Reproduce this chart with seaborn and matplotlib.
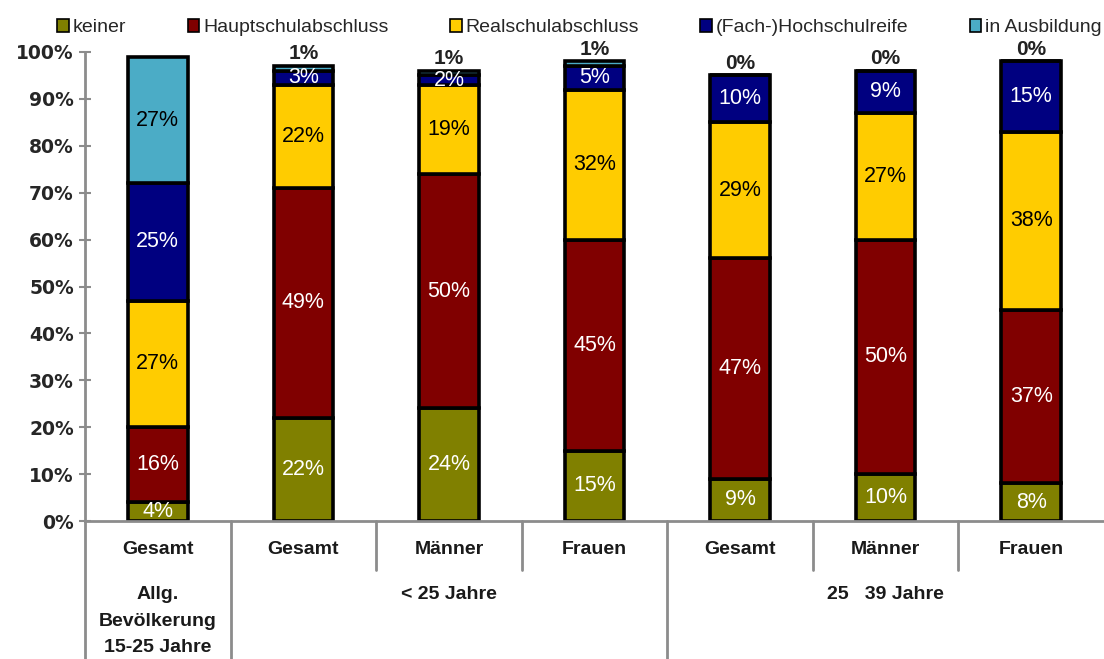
import matplotlib
matplotlib.use("Agg")
import matplotlib.pyplot as plt
import matplotlib.transforms as mtransforms
from matplotlib.lines import Line2D
from matplotlib.patches import Patch
import numpy as np
import seaborn as sns

# ── data ──────────────────────────────────────────────────────────────────────
categories = ["Gesamt", "Gesamt", "Männer", "Frauen", "Gesamt", "Männer", "Frauen"]
slot_keys = [f"c{i}" for i in range(len(categories))]

series_names = ["keiner", "Hauptschulabschluss", "Realschulabschluss",
                "(Fach-)Hochschulreife", "in Ausbildung"]
keiner = [4, 22, 24, 15, 9, 10, 8]
hauptschule = [16, 49, 50, 45, 47, 50, 37]
realschule = [27, 22, 19, 32, 29, 27, 38]
hochschulreife = [25, 3, 2, 5, 10, 9, 15]
in_ausbildung = [27, 1, 1, 1, 0, 0, 0]

yticks = [0, 10, 20, 30, 40, 50, 60, 70, 80, 90, 100]
group_labels = ["Allg.\nBevölkerung\n15-25 Jahre", "< 25 Jahre", "25   39 Jahre"]

# ── style ─────────────────────────────────────────────────────────────────────
colors = ["#808000", "#800000", "#FFCC00", "#000080", "#4BACC6"]
label_colors = ["white", "white", "black", "white", "black"]

sns.set_style("white")
plt.rcParams["font.family"] = ["Liberation Sans", "DejaVu Sans"]

fig = plt.figure(figsize=(11.04, 6.59), dpi=100)
ax = fig.add_axes([0.077, 0.2094, 0.923, 0.7117])

all_series = [keiner, hauptschule, realschule, hochschulreife, in_ausbildung]
bottom = np.zeros(len(categories))
for vals, col, lcol in zip(all_series, colors, label_colors):
    vals = np.asarray(vals, dtype=float)
    sns.barplot(x=slot_keys, y=vals, order=slot_keys, bottom=bottom, color=col,
                saturation=1, width=0.41, edgecolor="black", linewidth=2.6, ax=ax)
    for i, v in enumerate(vals):
        if v >= 2:
            ax.text(i, bottom[i] + v / 2, f"{v:.0f}%", ha="center", va="center",
                    color=lcol, fontsize=15.5)
        else:
            ax.text(i, bottom[i] + v + 2.6, f"{v:.0f}%", ha="center", va="center",
                    color="#222222", fontsize=15, fontweight="bold", clip_on=False)
    bottom += vals

# ── axes ──────────────────────────────────────────────────────────────────────
ax.set_xlim(-0.5, len(categories) - 0.5)
ax.set_ylim(0, 100)
ax.set_yticks(yticks)
ax.set_yticklabels([f"{t}%" for t in yticks], fontsize=13.5, fontweight="bold",
                   family="DejaVu Sans")
ax.set_xticks([])
ax.set_xlabel("")
ax.set_ylabel("")
for side in ["top", "right"]:
    ax.spines[side].set_visible(False)
for side in ["left", "bottom"]:
    ax.spines[side].set_color("#8c8c8c")
    ax.spines[side].set_linewidth(2)
ax.tick_params(axis="y", direction="inout", length=8, width=1.5, color="#8c8c8c",
               pad=4, left=True)

# ── category table below the axis ─────────────────────────────────────────────
trans = mtransforms.blended_transform_factory(ax.transData, fig.transFigure)
y_axis = 0.2094
y_short = 1 - 570 / 659
long_edges = [-0.5, 0.5, 3.5]
short_edges = [1.5, 2.5, 4.5, 5.5]
for xe in long_edges:
    fig.add_artist(Line2D([xe, xe], [y_axis, 0], transform=trans,
                          color="#8c8c8c", lw=2, clip_on=False))
for xe in short_edges:
    fig.add_artist(Line2D([xe, xe], [y_axis, y_short], transform=trans,
                          color="#8c8c8c", lw=2, clip_on=False))

for i, cat in enumerate(categories):
    fig.text(i, 1 - 550 / 659, cat, transform=trans, ha="center", va="center",
             fontsize=14, fontweight="bold", color="#1a1a1a")

group_x = [0, 2, 5]
for gx, gl in zip(group_x, group_labels):
    fig.text(gx, 1 - 586 / 659, gl, transform=trans, ha="center", va="top",
             fontsize=14, fontweight="bold", color="#1a1a1a", linespacing=1.75)

# ── legend ────────────────────────────────────────────────────────────────────
handles = [Patch(facecolor=c, edgecolor="black", linewidth=1.2) for c in colors]
fig.legend(handles, series_names, loc="lower left", ncol=5, mode="expand",
           bbox_to_anchor=(0.052, 0.945, 0.946, 0.05), frameon=False,
           fontsize=14, handlelength=0.6, handleheight=0.6, handletextpad=0.2,
           borderaxespad=0, borderpad=0)

fig.savefig("out.png", dpi=100)
